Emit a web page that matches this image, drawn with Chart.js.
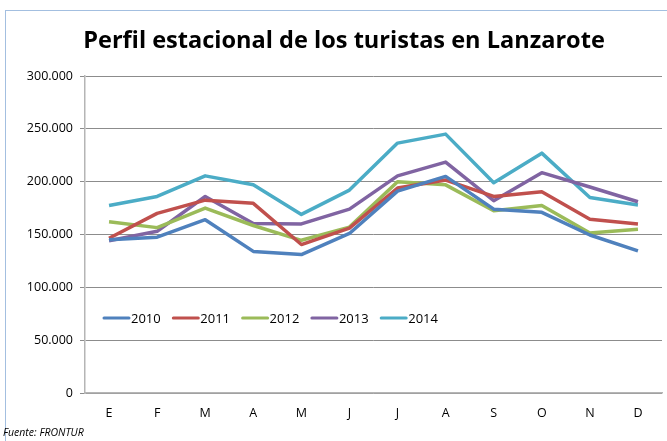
<!DOCTYPE html>
<html>
<head>
<meta charset="utf-8">
<script src="https://cdn.jsdelivr.net/npm/chart.js@4"></script>
<style>
  html, body { margin: 0; padding: 0; background: #fff; overflow: hidden; }
  #frame {
    position: absolute; left: 5px; top: 10px; width: 700px; height: 460px;
    border: 1.5px solid #a3bfe0; box-sizing: border-box;
  }
  #wrap { position: absolute; left: 0; top: 0; width: 667px; height: 441px; }
</style>
</head>
<body>
<div id="frame"></div>
<div id="wrap"><canvas id="chart"></canvas></div>
<script>
/* ---- Data ---- */
const MESES = ['E', 'F', 'M', 'A', 'M', 'J', 'J', 'A', 'S', 'O', 'N', 'D'];
const Y_TICKS = [0, 50000, 100000, 150000, 200000, 250000, 300000];
const ANIOS = ['2010', '2011', '2012', '2013', '2014'];

const T2010 = [145000, 147500, 164000, 134000, 131000, 151000, 191000, 205000, 174000, 171000, 149500, 134500];
const T2011 = [146500, 170000, 182500, 179500, 140500, 156000, 194000, 201500, 186000, 190500, 164500, 160000];
const T2012 = [162000, 156500, 175000, 158500, 144500, 157000, 200000, 197000, 172500, 177500, 151500, 155000];
const T2013 = [144000, 153000, 186000, 160500, 160000, 174000, 205500, 218500, 182000, 208500, 195000, 181000];
const T2014 = [177500, 186000, 205500, 197000, 169000, 192000, 236500, 245000, 199000, 227000, 185000, 178000];

const COLORS = ['#4f81bd', '#c0504d', '#9bbb59', '#8064a2', '#4bacc6'];
const SERIES = [T2010, T2011, T2012, T2013, T2014];

const FONT = "'Open Sans', 'Noto Sans', sans-serif";

function fmtMiles(v) {
  return String(v).replace(/\B(?=(\d{3})+(?!\d))/g, '.');
}

/* ---- Title, inner legend, source note ---- */
const extras = {
  id: 'extras',
  afterDraw(chart) {
    const ctx = chart.ctx;
    ctx.save();

    // title, fitted to the reference width
    const title = 'Perfil estacional de los turistas en Lanzarote';
    ctx.font = `bold 24px ${FONT}`;
    const w = ctx.measureText(title).width;
    const size = Math.min(26, 24 * 522 / w);
    ctx.font = `bold ${size}px ${FONT}`;
    ctx.fillStyle = '#000';
    ctx.textAlign = 'center';
    ctx.textBaseline = 'middle';
    ctx.fillText(title, 344, 41);

    // legend inside the plot
    ctx.font = `13px ${FONT}`;
    ctx.textAlign = 'left';
    ANIOS.forEach((name, i) => {
      const x0 = 104 + i * 69.3;
      const y = 318;
      ctx.strokeStyle = COLORS[i];
      ctx.lineWidth = 3;
      ctx.lineCap = 'round';
      ctx.beginPath();
      ctx.moveTo(x0, y);
      ctx.lineTo(x0 + 25, y);
      ctx.stroke();
      ctx.fillStyle = '#000';
      ctx.fillText(name, x0 + 27, y + 1);
    });

    // source
    ctx.font = `italic 10.5px ${FONT}`;
    ctx.fillText('Fuente: FRONTUR', 3, 433);
    ctx.restore();
  }
};

new Chart(document.getElementById('chart'), {
  type: 'line',
  data: {
    labels: MESES,
    datasets: ANIOS.map((name, i) => ({
      label: name,
      data: SERIES[i],
      borderColor: COLORS[i],
      backgroundColor: COLORS[i],
      borderWidth: 3.5,
      pointRadius: 0,
      tension: 0,
      borderJoinStyle: 'round'
    }))
  },
  options: {
    responsive: true,
    maintainAspectRatio: false,
    animation: false,
    layout: { padding: { top: 76, right: 5, left: 0, bottom: 0 } },
    plugins: {
      legend: { display: false },
      title: { display: false },
      tooltip: { enabled: false }
    },
    scales: {
      x: {
        offset: true,
        grid: { display: false, drawTicks: false },
        border: { display: true, color: '#b5b5b5', width: 1.5 },
        ticks: { color: '#000', font: { family: FONT, size: 12.5 }, padding: 13, maxRotation: 0, autoSkip: false },
        afterFit: s => { s.height = 48; }
      },
      y: {
        min: 0,
        max: 300000,
        afterBuildTicks: s => { s.ticks = Y_TICKS.map(v => ({ value: v })); },
        grid: { color: '#8c8c8c', lineWidth: 1, tickLength: 5, tickColor: '#8c8c8c' },
        border: { display: true, color: '#b5b5b5', width: 1.5 },
        ticks: { color: '#000', font: { family: FONT, size: 12.5 }, padding: 7, callback: v => fmtMiles(v) },
        afterFit: s => { s.width = 85; }
      }
    }
  },
  plugins: [extras]
});
</script>
</body>
</html>
